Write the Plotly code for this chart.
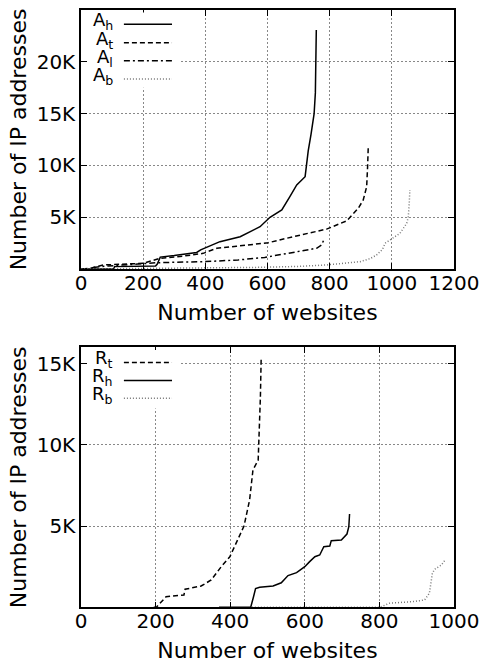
import plotly.graph_objects as go

# ---- top panel data (Number of websites vs Number of IP addresses) ----
ah_x = [0, 105, 108, 240, 245, 255, 300, 372, 385, 447, 512, 576, 608, 646, 672, 694, 721, 731, 740, 750, 754, 756, 757]
ah_y = [0, 0, 230, 300, 450, 1150, 1300, 1600, 1850, 2640, 3120, 4080, 4990, 5700, 6980, 8110, 8910, 11400, 13000, 15000, 17000, 19530, 23070]

at_x = [5, 29, 72, 200, 254, 330, 393, 437, 500, 576, 603, 683, 790, 855, 892, 908, 919, 922, 924]
at_y = [0, 70, 390, 550, 1030, 1250, 1510, 2000, 2200, 2410, 2540, 3120, 3850, 4650, 5860, 6660, 7940, 9870, 11650]

al_x = [40, 87, 183, 248, 398, 505, 591, 683, 758, 774, 778, 780]
al_y = [150, 290, 480, 610, 710, 870, 1120, 1570, 2000, 2320, 2700, 2730]

ab_x = [10, 300, 576, 700, 790, 898, 930, 951, 970, 978, 994, 1026, 1048, 1053, 1056, 1058]
ab_y = [0, 50, 160, 250, 390, 710, 1000, 1350, 1900, 2480, 2800, 3440, 4410, 5050, 6340, 7630]

# ---- bottom panel data ----
rt_x = [195, 202, 228, 276, 279, 322, 349, 376, 399, 420, 437, 452, 461, 475, 478, 481, 483]
rt_y = [0, 0, 650, 760, 1110, 1310, 1680, 2500, 3110, 4140, 5000, 6600, 8450, 9060, 10910, 12960, 15320]

rh_x = [370, 455, 462, 468, 479, 515, 537, 555, 578, 600, 613, 627, 640, 651, 667, 671, 698, 713, 718, 720]
rh_y = [0, 0, 600, 1150, 1230, 1310, 1510, 1950, 2130, 2500, 2810, 3110, 3220, 3730, 3770, 4100, 4140, 4510, 4960, 5740]

rb_x = [450, 801, 827, 890, 921, 934, 942, 948, 966, 975]
rb_y = [0, 0, 250, 350, 450, 860, 2090, 2340, 2600, 2870]

top_x_ticks = [0, 200, 400, 600, 800, 1000, 1200]
top_y_ticks = [5000, 10000, 15000, 20000, 25000]
top_y_text = ["5K", "10K", "15K", "20K", "25K"]
bot_x_ticks = [0, 200, 400, 600, 800, 1000]
bot_y_ticks = [5000, 10000, 15000]
bot_y_text = ["5K", "10K", "15K"]

top_names = ["A<sub>h</sub>", "A<sub>t</sub>", "A<sub>l</sub>", "A<sub>b</sub>"]
bot_names = ["R<sub>t</sub>", "R<sub>h</sub>", "R<sub>b</sub>"]

BLACK = "#000000"
GRAY = "#777777"
FONT = "DejaVu Sans"
SOLID = "solid"
DASH = "5px,3px"
DASHDOT = "6px,3px,2px,3px"
DOT = "1px,2px"

fig = go.Figure()

top_series = [(ah_x, ah_y, SOLID, BLACK), (at_x, at_y, DASH, BLACK),
              (al_x, al_y, DASHDOT, BLACK), (ab_x, ab_y, DOT, GRAY)]
for (xs, ys, dash, col), name in zip(top_series, top_names):
    fig.add_trace(go.Scatter(x=xs, y=ys, mode="lines", name=name, xaxis="x", yaxis="y",
                             line=dict(color=col, width=1.5, dash=dash), showlegend=False))

bot_series = [(rt_x, rt_y, DASH, BLACK), (rh_x, rh_y, SOLID, BLACK), (rb_x, rb_y, DOT, GRAY)]
for (xs, ys, dash, col), name in zip(bot_series, bot_names):
    fig.add_trace(go.Scatter(x=xs, y=ys, mode="lines", name=name, xaxis="x2", yaxis="y2",
                             line=dict(color=col, width=1.5, dash=dash), showlegend=False))

W, H = 482, 669
xdom = [81 / W, 454 / W]
ydom_top = [(H - 269) / H, (H - 10) / H]
ydom_bot = [(H - 607.3) / H, (H - 347.3) / H]

axis_common = dict(showline=True, linecolor=BLACK, linewidth=1.5, mirror="ticks",
                   ticks="inside", ticklen=6, tickwidth=1, tickcolor=BLACK,
                   showgrid=True, gridcolor="#888888", griddash="2px,2px", gridwidth=1,
                   zeroline=False, tickfont=dict(family=FONT, size=20, color=BLACK),
                   automargin=False)
x_extra = dict(ticklabelstandoff=-5)

title_font = dict(family=FONT, size=22, color=BLACK)

fig.update_layout(
    width=W, height=H, margin=dict(l=0, r=0, t=0, b=0),
    paper_bgcolor="white", plot_bgcolor="white",
    font=dict(family=FONT, color=BLACK),
    xaxis=dict(axis_common, **x_extra, domain=xdom, anchor="y", range=[0, 1200], tickvals=top_x_ticks,
               title=dict(text="Number of websites", font=title_font, standoff=11)),
    yaxis=dict(axis_common, domain=ydom_top, anchor="x", range=[0, 25000], tickvals=top_y_ticks,
               ticktext=top_y_text,
               title=dict(text="Number of IP addresses", font=title_font, standoff=4)),
    xaxis2=dict(axis_common, **x_extra, domain=xdom, anchor="y2", range=[0, 1000], tickvals=bot_x_ticks,
                title=dict(text="Number of websites", font=title_font, standoff=11)),
    yaxis2=dict(axis_common, domain=ydom_bot, anchor="x2", range=[0, 16000], tickvals=bot_y_ticks,
                ticktext=bot_y_text,
                title=dict(text="Number of IP addresses", font=title_font, standoff=4)),
)

# ---- gnuplot-style keys: label on the left, line sample on the right ----
shapes = []
annotations = []
# white key boxes hiding the grid
shapes.append(dict(type="rect", xref="x domain", yref="y domain", x0=0.02, x1=0.265, y0=0.70, y1=0.99,
                   fillcolor="white", line=dict(width=0), layer="above"))
shapes.append(dict(type="rect", xref="x2 domain", yref="y2 domain", x0=0.02, x1=0.265, y0=0.765, y1=0.99,
                   fillcolor="white", line=dict(width=0), layer="above"))

LEG_FONT = dict(family=FONT, size=18, color=BLACK)
top_rows = [0.945, 0.874, 0.804, 0.734]
for (xs, ys, dash, col), name, yy in zip(top_series, top_names, top_rows):
    shapes.append(dict(type="line", xref="x domain", yref="y domain", x0=0.115, x1=0.244, y0=yy, y1=yy,
                       line=dict(color=col, width=1.5, dash=dash), layer="above"))
    annotations.append(dict(xref="x domain", yref="y domain", x=0.088, y=yy + 0.012, text=name,
                            showarrow=False, xanchor="right", yanchor="middle", font=LEG_FONT,
                            borderpad=0))

bot_rows = [0.942, 0.872, 0.804]
for (xs, ys, dash, col), name, yy in zip(bot_series, bot_names, bot_rows):
    shapes.append(dict(type="line", xref="x2 domain", yref="y2 domain", x0=0.115, x1=0.244, y0=yy, y1=yy,
                       line=dict(color=col, width=1.5, dash=dash), layer="above"))
    annotations.append(dict(xref="x2 domain", yref="y2 domain", x=0.088, y=yy + 0.012, text=name,
                            showarrow=False, xanchor="right", yanchor="middle", font=LEG_FONT,
                            borderpad=0))

fig.update_layout(shapes=shapes, annotations=annotations)
fig.write_html("out.html", config={"displayModeBar": False},
               post_script="document.body.style.margin='0px';document.body.style.padding='0px';"
                           "document.body.style.overflow='hidden';")
